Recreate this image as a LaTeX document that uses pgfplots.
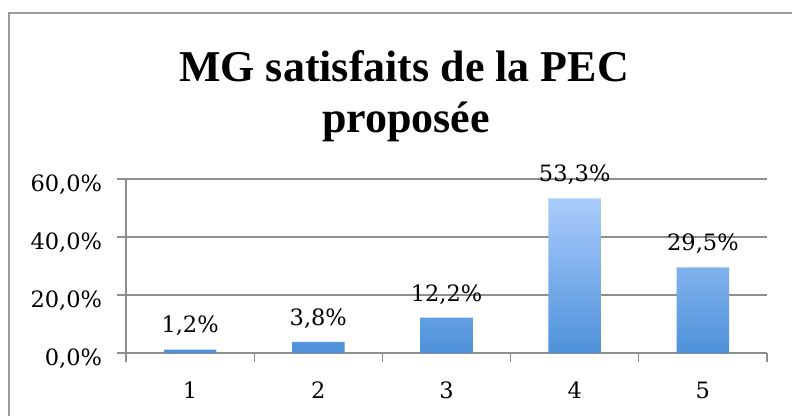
\documentclass[border=0pt]{standalone}
\usepackage{pgfplots}
\pgfplotsset{compat=1.18}
\usepackage{fontspec}
\setmainfont{DejaVu Serif}
\newfontfamily\titlefont{Liberation Serif}
\definecolor{axgray}{HTML}{8E8E8E}
\definecolor{framegray}{HTML}{9A9A9A}
\definecolor{barTop}{HTML}{AACCFC}
\definecolor{barBot}{HTML}{4D91DA}
\begin{document}
\begin{tikzpicture}
\useasboundingbox (0,0) rectangle (792bp,416bp);
\fill[white] (0,0) rectangle (792bp,416bp);
\draw[framegray, line width=1.3bp] (9bp,0) -- (9bp,403bp) -- (792bp,403bp);
\begin{axis}[
  at={(126bp,63bp)}, anchor=south west,
  scale only axis, width=641bp, height=174bp,
  clip=false,
  ymin=0, ymax=60,
  xmin=0.5, xmax=5.5,
  axis x line=bottom, axis y line=left,
  axis line style={-, draw=axgray, line width=1.2bp},
  ytick={0,20,40,60},
  ymajorgrids,
  grid style={draw=axgray, line width=1.2bp},
  xtick={1,2,3,4,5},
  xtick style={draw=none},
  extra x ticks={0.5,1.5,2.5,3.5,4.5,5.5},
  extra x tick labels={},
  extra x tick style={xtick style={draw=axgray, line width=1.2bp}, grid=none},
  ytick style={draw=axgray, line width=1.2bp},
  tick align=outside,
  major tick length=8.5bp,
  /pgf/number format/assume math mode=true,
  ticklabel style={font=\fontsize{22.5bp}{26bp}\selectfont, text=black},
  yticklabel={\pgfmathprintnumber[fixed,fixed zerofill,precision=1,use comma]{\tick}\%},
  yticklabel style={anchor=east, xshift=-12bp, yshift=-6bp},
  xticklabel style={anchor=north, yshift=-17bp},
  ybar, bar width=0.41, bar shift=0pt,
  nodes near coords={\pgfmathprintnumber[fixed,fixed zerofill,precision=1,use comma]{\pgfplotspointmeta}\%},
  nodes near coords style={font=\fontsize{22.5bp}{26bp}\selectfont, text=black, anchor=south, yshift=10bp},
]
\addplot[draw=none, top color=barTop, bottom color=barBot] coordinates {
  (1,1.2) (2,3.8) (3,12.2) (4,53.3) (5,29.5)
};
\end{axis}
\node[anchor=base, font=\titlefont\bfseries\fontsize{44bp}{50bp}\selectfont] at (404bp,334bp) {MG satisfaits de la PEC};
\node[anchor=base, font=\titlefont\bfseries\fontsize{44bp}{50bp}\selectfont] at (406bp,283bp) {proposée};
\end{tikzpicture}
\end{document}
